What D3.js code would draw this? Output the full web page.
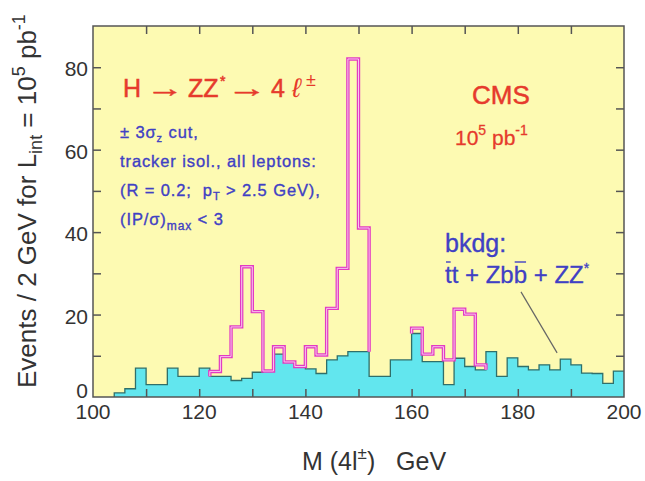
<!DOCTYPE html>
<html>
<head>
<meta charset="utf-8">
<script src="https://cdn.jsdelivr.net/npm/d3@7"></script>
<style>
  body { margin: 0; background: #fff; }
  svg { display: block; font-family: "Liberation Sans", Arial, sans-serif; }
  svg text { white-space: pre; }
</style>
</head>
<body>
<div id="chart"></div>
<script>
// 2 GeV bins, lower edges from 104 to 198
const binStart = 104
const binWidth = 2
// background (ttbar + Zbb + ZZ*) per bin
const bkg = [1, 2, 7, 3, 3, 7, 5, 5, 7, 5, 5, 4, 4.5, 6, 6.3, 10.4, 8.5, 7.4, 6.8, 5.7,
             9, 10, 11, 11, 5, 5, 9, 9, 15.4, 8.6, 8.6, 3, 9.4, 7.4, 6.6, 11, 5, 9.5, 7.4, 6.6,
             7.8, 6.6, 9.2, 7.8, 5.8, 5.7, 3.3, 6.3]
// signal + background, null where no signal is drawn
const total = [null, null, null, null, null, null, null, null, null, 6.2, 9.8, 17, 31.6, 20.7, 6.3, 12.2, 8.5, 7.4, 12.2, 10.2,
               21.5, 31.2, 82, 41, null, null, null, null, 16.7, 10.4, 12.2, 9, 21.3, 20.1, 7.8, null, null, null, null, null,
               null, null, null, null, null, null, null, null]
const xTickLabels = [100, 120, 140, 160, 180, 200]
const yTickLabels = [0, 20, 40, 60, 80]

const width = 645, height = 481
const red = '#e63a2c', blue = '#4040c4', ink = '#333'

const x = d3.scaleLinear().domain([100, 200]).range([93, 624])
const y = d3.scaleLinear().domain([0, 90]).range([397, 26])

const svg = d3.select('#chart').append('svg')
    .attr('width', width)
    .attr('height', height)

// plot background
svg.append('rect')
    .attr('x', x(100)).attr('y', y(90))
    .attr('width', x(200) - x(100)).attr('height', y(0) - y(90))
    .attr('fill', '#fdfab2')

const bins = bkg.map((v, i) => ({lo: binStart + i * binWidth, b: v, t: total[i]}))

// background histogram: filled step area + outline
const bkgPts = [{lo: binStart, b: 0}].concat(bins, [{lo: 200, b: bkg[bkg.length - 1]}])
svg.append('path')
    .datum(bkgPts.slice(1))
    .attr('d', d3.area().curve(d3.curveStepAfter).x(d => x(d.lo)).y0(y(0)).y1(d => y(d.b)))
    .attr('fill', '#62e6ee')
svg.append('path')
    .datum(bkgPts)
    .attr('d', d3.line().curve(d3.curveStepAfter).x(d => x(d.lo)).y(d => y(d.b)))
    .attr('fill', 'none')
    .attr('stroke', '#2f6f6a')
    .attr('stroke-width', 1.3)

// signal + background: one step line per run of bins with signal
const runs = []
let cur = null
bins.forEach(d => {
    if (d.t == null) { cur = null; return }
    if (!cur) { cur = []; runs.push(cur) }
    cur.push(d)
})
const sigLine = d3.line().curve(d3.curveStepAfter).x(d => x(d.lo)).y(d => y(d.v))
runs.forEach(r => {
    const first = r[0], last = r[r.length - 1]
    const pts = [{lo: first.lo, v: first.b}]
        .concat(r.map(d => ({lo: d.lo, v: d.t})))
        .concat([{lo: last.lo + binWidth, v: last.t}, {lo: last.lo + binWidth, v: last.b}])
    svg.append('path').datum(pts).attr('d', sigLine)
        .attr('fill', 'none').attr('stroke', '#e23cc2').attr('stroke-width', 3.4)
    svg.append('path').datum(pts).attr('d', sigLine)
        .attr('fill', 'none').attr('stroke', '#f8c6ee').attr('stroke-width', 1)
})

// frame
svg.append('rect')
    .attr('x', x(100)).attr('y', y(90))
    .attr('width', x(200) - x(100)).attr('height', y(0) - y(90))
    .attr('fill', 'none').attr('stroke', '#555').attr('stroke-width', 1.5)

// inward ticks on all four sides
const tk = 8
const axB = d3.axisBottom(x).tickValues(d3.range(110, 200, 10)).tickSize(-tk).tickFormat('')
const axT = d3.axisTop(x).tickValues(d3.range(110, 200, 10)).tickSize(-tk).tickFormat('')
const axL = d3.axisLeft(y).tickValues(d3.range(10, 90, 10)).tickSize(-tk).tickFormat('')
const axR = d3.axisRight(y).tickValues(d3.range(10, 90, 10)).tickSize(-tk).tickFormat('')
;[[axB, `translate(0,${y(0)})`], [axT, `translate(0,${y(90)})`],
  [axL, `translate(${x(100)},0)`], [axR, `translate(${x(200)},0)`]].forEach(([ax, tr]) => {
    const g = svg.append('g').attr('transform', tr).call(ax)
    g.select('.domain').remove()
    g.selectAll('line').attr('stroke', '#555').attr('stroke-width', 1.5)
})

// tick labels
svg.append('g').selectAll('text').data(xTickLabels).join('text')
    .attr('x', d => x(d)).attr('y', 419)
    .attr('text-anchor', 'middle').attr('font-size', 21).attr('fill', ink)
    .text(d => d)
svg.append('g').selectAll('text').data(yTickLabels).join('text')
    .attr('x', 88).attr('y', d => d === 0 ? y(d) + 1 : y(d) + 9)
    .attr('text-anchor', 'end').attr('font-size', 21).attr('fill', ink)
    .text(d => d)

// axis titles
const xt = svg.append('text').attr('x', 302).attr('y', 470).attr('font-size', 25).attr('fill', ink)
xt.append('tspan').text('M (4l')
xt.append('tspan').attr('font-size', 17).attr('dy', -11).text('±')
xt.append('tspan').attr('dy', 11).text(')   GeV')

const yt = svg.append('text').attr('transform', 'translate(36,388) rotate(-90)')
    .attr('font-size', 26).attr('fill', ink)
yt.append('tspan').text('Events / 2 GeV for L')
yt.append('tspan').attr('font-size', 18).attr('dy', 6).text('int')
yt.append('tspan').attr('dy', -6).text(' = 10')
yt.append('tspan').attr('font-size', 18).attr('dy', -11).text('5')
yt.append('tspan').attr('dy', 11).text(' pb')
yt.append('tspan').attr('font-size', 18).attr('dy', -11).text('-1')

// text helper; a thin stroke in the fill colour thickens the glyphs a little
function put(txt, px, py, size, color, extra) {
    const t = svg.append('text').attr('x', px).attr('y', py)
        .attr('font-size', size).attr('fill', color)
        .attr('stroke', color).attr('stroke-width', 0.5)
        .text(txt)
    if (extra) extra(t)
    return t
}

// process label
put('H', 123, 97, 25, red)
put('→', 146, 97, 25, red, t => t.attr('textLength', 38).attr('lengthAdjust', 'spacingAndGlyphs'))
put('ZZ', 188, 97, 25, red)
put('*', 220, 86, 14, red)
put('→', 227, 97, 25, red, t => t.attr('textLength', 40).attr('lengthAdjust', 'spacingAndGlyphs'))
put('4', 271, 97, 25, red)
put('ℓ', 292, 97, 27, red, t => t.attr('font-style', 'italic').attr('stroke-width', 0))
put('±', 306, 86, 18, red, t => t.attr('stroke-width', 0))

// selection cuts
const cuts = svg.append('g').attr('fill', blue).attr('font-size', 16.5)
    .attr('stroke', blue).attr('stroke-width', 0.35).attr('letter-spacing', 0.9)
const c1 = cuts.append('text').attr('x', 120).attr('y', 138)
c1.append('tspan').text('± 3σ')
c1.append('tspan').attr('font-size', 11).attr('dy', 4).text('z')
c1.append('tspan').attr('dy', -4).text(' cut,')
cuts.append('text').attr('x', 120).attr('y', 167).text('tracker isol., all leptons:')
const c3 = cuts.append('text').attr('x', 120).attr('y', 196)
c3.append('tspan').text('(R = 0.2;  p')
c3.append('tspan').attr('font-size', 11).attr('dy', 4).text('T')
c3.append('tspan').attr('dy', -4).text(' > 2.5 GeV),')
const c4 = cuts.append('text').attr('x', 120).attr('y', 225)
c4.append('tspan').text('(IP/σ)')
c4.append('tspan').attr('font-size', 12).attr('dy', 5).text('max')
c4.append('tspan').attr('dy', -5).text(' < 3')

// experiment label
put('CMS', 472, 104, 26, red)
const lum = put('', 455, 145, 21, red, t => t.attr('stroke-width', 0.3))
lum.append('tspan').text('10')
lum.append('tspan').attr('font-size', 14).attr('dy', -10).text('5')
lum.append('tspan').attr('dy', 10).text(' pb')
lum.append('tspan').attr('font-size', 14).attr('dy', -10).text('-1')

// background label, overlines and pointer
put('bkdg:', 445, 252, 25, blue, t => t.attr('stroke-width', 0.35))
const bl = put('', 445, 283, 24, blue, t => t.attr('stroke-width', 0.3))
bl.append('tspan').text('tt + Zbb + ZZ')
bl.append('tspan').attr('font-size', 14).attr('dy', -10).text('*')
const blNode = bl.select('tspan').node()
;[0, 7].forEach(i => {
    const e = blNode.getExtentOfChar(i)
    svg.append('line')
        .attr('x1', e.x + 1).attr('x2', e.x + e.width - 1)
        .attr('y1', 283 - 21).attr('y2', 283 - 21)
        .attr('stroke', blue).attr('stroke-width', 1.4)
})
svg.append('line')
    .attr('x1', x(180.6)).attr('y1', y(25.5))
    .attr('x2', x(187.4)).attr('y2', y(10.7))
    .attr('stroke', '#666').attr('stroke-width', 1.2)
</script>
</body>
</html>
